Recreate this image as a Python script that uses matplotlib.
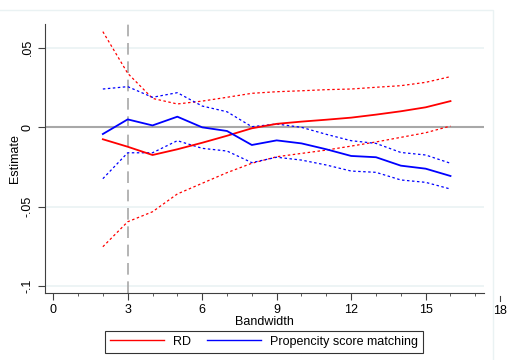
import matplotlib
matplotlib.use("Agg")
import matplotlib.pyplot as plt
from matplotlib.patches import Rectangle

plt.rcParams['font.family'] = ['Liberation Sans', 'DejaVu Sans']

bandwidth = [2, 3, 4, 5, 6, 7, 8, 9, 10, 11, 12, 13, 14, 15, 16]

rd_est = [-0.0077, -0.0124, -0.0176, -0.0140, -0.0099, -0.0055, -0.0008, 0.0020,
          0.0034, 0.0046, 0.0059, 0.0078, 0.0099, 0.0124, 0.0163]
rd_hi = [0.0600, 0.0338, 0.0180, 0.0145, 0.0163, 0.0187, 0.0212, 0.0222,
         0.0228, 0.0235, 0.0239, 0.0250, 0.0260, 0.0281, 0.0317]
rd_lo = [-0.0753, -0.0596, -0.0533, -0.0421, -0.0354, -0.0287, -0.0228, -0.0187,
         -0.0166, -0.0145, -0.0120, -0.0094, -0.0065, -0.0036, 0.0006]

psm_est = [-0.0044, 0.0048, 0.0010, 0.0065, -0.0002, -0.0025, -0.0113, -0.0084,
           -0.0103, -0.0140, -0.0182, -0.0190, -0.0243, -0.0262, -0.0308]
psm_hi = [0.0239, 0.0254, 0.0187, 0.0216, 0.0132, 0.0096, 0.0002, 0.0019,
          -0.0002, -0.0046, -0.0086, -0.0103, -0.0160, -0.0176, -0.0228]
psm_lo = [-0.0325, -0.0162, -0.0162, -0.0086, -0.0134, -0.0151, -0.0224, -0.0190,
          -0.0208, -0.0239, -0.0277, -0.0285, -0.0333, -0.0348, -0.0390]

chosen_bw = 3
x_ticks = [0, 3, 6, 9, 12, 15]
y_ticks = [0.05, 0, -0.05, -0.1]
y_labels = ['.05', '0', '-.05', '-.1']

grid_col = '#eaf2f3'

fig = plt.figure(figsize=(5.1, 3.6), dpi=100)
fig.patches.append(Rectangle((-0.01, -0.1), 498 / 510, 1.1 - 10 / 360,
                             transform=fig.transFigure, fill=False,
                             edgecolor=grid_col, lw=1.0))
ax = fig.add_axes([45 / 510, 1 - 293 / 360, (484 - 45) / 510, (293 - 24) / 360])

ax.set_xlim(-0.33, 17.35)
ax.set_ylim(-0.1044, 0.0648)

for v in [0.05, -0.05, -0.1]:
    ax.axhline(v, color=grid_col, lw=1.2, zorder=0)
ax.axhline(0, color='#a8a8a8', lw=1.5, zorder=1)
ax.axvline(chosen_bw, color='#a8a8a8', lw=1.2, ls=(0, (7, 4)), zorder=1)

ax.plot(bandwidth, rd_hi, color='red', lw=0.9, ls=(0, (2, 2)), zorder=2)
ax.plot(bandwidth, rd_lo, color='red', lw=0.9, ls=(0, (2, 2)), zorder=2)
ax.plot(bandwidth, psm_hi, color='blue', lw=0.9, ls=(0, (2, 2)), zorder=2)
ax.plot(bandwidth, psm_lo, color='blue', lw=0.9, ls=(0, (2, 2)), zorder=2)
l1, = ax.plot(bandwidth, rd_est, color='red', lw=1.3, zorder=3)
l2, = ax.plot(bandwidth, psm_est, color='blue', lw=1.3, zorder=3)

ax.spines['top'].set_visible(False)
ax.spines['right'].set_visible(False)
ax.spines['left'].set_color('#404040')
ax.spines['bottom'].set_color('#404040')

ax.set_xticks(x_ticks)
ax.set_xticks(range(1, 18), minor=True)
ax.set_yticks(y_ticks)
ax.set_yticklabels(y_labels, rotation=90, va='center')
ax.tick_params(axis='both', labelsize=9, length=5, color='#404040', pad=3)
ax.tick_params(axis='x', which='minor', length=2.5, color='#404040')

# the 18 tick sits past the end of the axis line
ax.plot([18, 18], [-0.012, -0.03], transform=ax.get_xaxis_transform(),
        color='#404040', lw=0.8, clip_on=False)
ax.text(18, -0.045, '18', transform=ax.get_xaxis_transform(), ha='center',
        va='top', fontsize=9)

ax.set_xlabel('Bandwidth', fontsize=9, labelpad=0)
ax.set_ylabel('Estimate', fontsize=9)
ax.yaxis.set_label_coords(-0.054, 0.5)

leg = fig.legend([l1, l2], ['RD', 'Propencity score matching'], ncol=2,
                 loc='lower center', bbox_to_anchor=(264 / 510, 1 / 360),
                 fontsize=9, frameon=True, fancybox=False, edgecolor='black',
                 handlelength=4.3, handletextpad=0.7, columnspacing=1.3,
                 borderpad=0.4)
leg.get_frame().set_linewidth(0.8)
for h in leg.get_lines():
    h.set_linewidth(1.0)

fig.savefig('out.png', dpi=100)
